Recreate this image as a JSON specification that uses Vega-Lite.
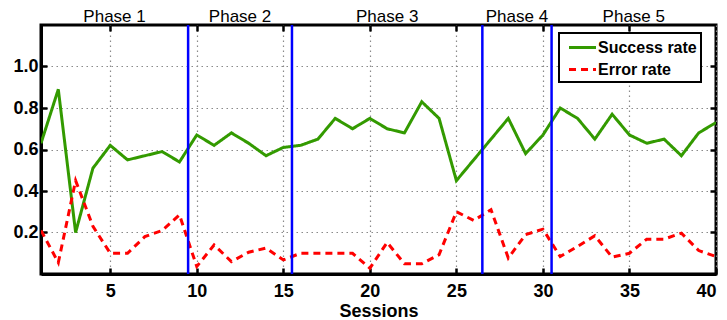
{
  "$schema": "https://vega.github.io/schema/vega-lite/v6.json",
  "width": 675,
  "height": 249,
  "autosize": {"type": "none"},
  "padding": {"left": 41, "top": 25, "right": 11, "bottom": 46},
  "background": "white",
  "config": {
    "font": "Liberation Sans",
    "view": {"stroke": "black", "strokeWidth": 3},
    "axis": {
      "domainColor": "black",
      "domainWidth": 3,
      "tickColor": "black",
      "tickWidth": 2.5,
      "tickSize": -6,
      "labelFont": "Liberation Sans",
      "labelFontSize": 18,
      "labelFontWeight": "bold",
      "labelColor": "black",
      "gridColor": "#8a8a8a",
      "gridDash": [1.5, 3.5],
      "gridWidth": 1.2,
      "gridOpacity": 1,
      "titleFont": "Liberation Sans",
      "titleFontSize": 18,
      "titleFontWeight": "bold",
      "titleColor": "black"
    },
    "legend": {
      "orient": "none",
      "legendX": 518,
      "legendY": 8,
      "fillColor": "white",
      "strokeColor": "black",
      "strokeWidth": 2,
      "padding": 4,
      "symbolType": "M-1.5,0H1.5",
      "symbolSize": 324,
      "symbolStrokeWidth": 3,
      "symbolOffset": 9,
      "labelFont": "Liberation Sans",
      "labelFontSize": 16,
      "labelFontWeight": "bold",
      "labelColor": "black",
      "labelOffset": 5,
      "rowPadding": 3,
      "title": null
    }
  },
  "datasets": {
    "rates": [
      {"session": 1, "series": "Success rate", "rate": 0.63},
      {"session": 2, "series": "Success rate", "rate": 0.89},
      {"session": 3, "series": "Success rate", "rate": 0.2},
      {"session": 4, "series": "Success rate", "rate": 0.51},
      {"session": 5, "series": "Success rate", "rate": 0.62},
      {"session": 6, "series": "Success rate", "rate": 0.55},
      {"session": 7, "series": "Success rate", "rate": 0.57},
      {"session": 8, "series": "Success rate", "rate": 0.59},
      {"session": 9, "series": "Success rate", "rate": 0.54},
      {"session": 10, "series": "Success rate", "rate": 0.67},
      {"session": 11, "series": "Success rate", "rate": 0.62},
      {"session": 12, "series": "Success rate", "rate": 0.68},
      {"session": 13, "series": "Success rate", "rate": 0.63},
      {"session": 14, "series": "Success rate", "rate": 0.57},
      {"session": 15, "series": "Success rate", "rate": 0.61},
      {"session": 16, "series": "Success rate", "rate": 0.62},
      {"session": 17, "series": "Success rate", "rate": 0.65},
      {"session": 18, "series": "Success rate", "rate": 0.75},
      {"session": 19, "series": "Success rate", "rate": 0.7},
      {"session": 20, "series": "Success rate", "rate": 0.75},
      {"session": 21, "series": "Success rate", "rate": 0.7},
      {"session": 22, "series": "Success rate", "rate": 0.68},
      {"session": 23, "series": "Success rate", "rate": 0.83},
      {"session": 24, "series": "Success rate", "rate": 0.75},
      {"session": 25, "series": "Success rate", "rate": 0.45},
      {"session": 26, "series": "Success rate", "rate": 0.55},
      {"session": 27, "series": "Success rate", "rate": 0.65},
      {"session": 28, "series": "Success rate", "rate": 0.75},
      {"session": 29, "series": "Success rate", "rate": 0.58},
      {"session": 30, "series": "Success rate", "rate": 0.67},
      {"session": 31, "series": "Success rate", "rate": 0.8},
      {"session": 32, "series": "Success rate", "rate": 0.75},
      {"session": 33, "series": "Success rate", "rate": 0.65},
      {"session": 34, "series": "Success rate", "rate": 0.77},
      {"session": 35, "series": "Success rate", "rate": 0.67},
      {"session": 36, "series": "Success rate", "rate": 0.63},
      {"session": 37, "series": "Success rate", "rate": 0.65},
      {"session": 38, "series": "Success rate", "rate": 0.57},
      {"session": 39, "series": "Success rate", "rate": 0.68},
      {"session": 40, "series": "Success rate", "rate": 0.73},
      {"session": 1, "series": "Error rate", "rate": 0.21},
      {"session": 2, "series": "Error rate", "rate": 0.055},
      {"session": 3, "series": "Error rate", "rate": 0.45},
      {"session": 4, "series": "Error rate", "rate": 0.23},
      {"session": 5, "series": "Error rate", "rate": 0.1},
      {"session": 6, "series": "Error rate", "rate": 0.1},
      {"session": 7, "series": "Error rate", "rate": 0.18},
      {"session": 8, "series": "Error rate", "rate": 0.21},
      {"session": 9, "series": "Error rate", "rate": 0.285},
      {"session": 10, "series": "Error rate", "rate": 0.036},
      {"session": 11, "series": "Error rate", "rate": 0.14},
      {"session": 12, "series": "Error rate", "rate": 0.06},
      {"session": 13, "series": "Error rate", "rate": 0.105},
      {"session": 14, "series": "Error rate", "rate": 0.125},
      {"session": 15, "series": "Error rate", "rate": 0.068},
      {"session": 16, "series": "Error rate", "rate": 0.1},
      {"session": 17, "series": "Error rate", "rate": 0.1},
      {"session": 18, "series": "Error rate", "rate": 0.1},
      {"session": 19, "series": "Error rate", "rate": 0.1},
      {"session": 20, "series": "Error rate", "rate": 0.028},
      {"session": 21, "series": "Error rate", "rate": 0.152},
      {"session": 22, "series": "Error rate", "rate": 0.049},
      {"session": 23, "series": "Error rate", "rate": 0.049},
      {"session": 24, "series": "Error rate", "rate": 0.093},
      {"session": 25, "series": "Error rate", "rate": 0.3},
      {"session": 26, "series": "Error rate", "rate": 0.258},
      {"session": 27, "series": "Error rate", "rate": 0.31},
      {"session": 28, "series": "Error rate", "rate": 0.077},
      {"session": 29, "series": "Error rate", "rate": 0.19},
      {"session": 30, "series": "Error rate", "rate": 0.216},
      {"session": 31, "series": "Error rate", "rate": 0.084},
      {"session": 32, "series": "Error rate", "rate": 0.133},
      {"session": 33, "series": "Error rate", "rate": 0.184},
      {"session": 34, "series": "Error rate", "rate": 0.081},
      {"session": 35, "series": "Error rate", "rate": 0.1},
      {"session": 36, "series": "Error rate", "rate": 0.168},
      {"session": 37, "series": "Error rate", "rate": 0.168},
      {"session": 38, "series": "Error rate", "rate": 0.197},
      {"session": 39, "series": "Error rate", "rate": 0.113},
      {"session": 40, "series": "Error rate", "rate": 0.084}
    ],
    "boundaries": [
      {"boundary": 9.5},
      {"boundary": 15.5},
      {"boundary": 26.5},
      {"boundary": 30.5}
    ],
    "phases": [
      {"phase": "Phase 1", "mid": 5.25},
      {"phase": "Phase 2", "mid": 12.5},
      {"phase": "Phase 3", "mid": 21},
      {"phase": "Phase 4", "mid": 28.5},
      {"phase": "Phase 5", "mid": 35.25}
    ]
  },
  "resolve": {"axis": {"x": "independent", "y": "independent"}},
  "layer": [
    {
      "data": {"name": "rates"},
      "mark": {"type": "line", "strokeWidth": 3, "clip": true},
      "encoding": {
        "x": {
          "field": "session",
          "type": "quantitative",
          "scale": {"domain": [1, 40], "nice": false, "zero": false},
          "axis": {
            "orient": "bottom",
            "values": [5, 10, 15, 20, 25, 30, 35, 40],
            "title": "Sessions",
            "labelPadding": 14,
            "titlePadding": 2,
            "grid": true
          }
        },
        "y": {
          "field": "rate",
          "type": "quantitative",
          "scale": {"domain": [0, 1.2], "nice": false},
          "axis": {
            "orient": "left",
            "values": [0.2, 0.4, 0.6, 0.8, 1.0],
            "format": ".1f",
            "title": null,
            "labelPadding": 9,
            "grid": true
          }
        },
        "color": {
          "field": "series",
          "type": "nominal",
          "scale": {"domain": ["Success rate", "Error rate"], "range": ["#339a00", "#ff0000"]}
        },
        "strokeDash": {
          "field": "series",
          "type": "nominal",
          "scale": {"domain": ["Success rate", "Error rate"], "range": [[1, 0], [7, 5]]}
        }
      }
    },
    {
      "data": {"name": "boundaries"},
      "mark": {"type": "rule", "color": "#0000ff", "strokeWidth": 2.5},
      "encoding": {
        "x": {
          "field": "boundary",
          "type": "quantitative",
          "axis": {
            "orient": "top",
            "values": [5, 10, 15, 20, 25, 30, 35],
            "labels": false,
            "grid": false,
            "domain": false,
            "title": null
          }
        }
      }
    },
    {
      "data": {"name": "phases"},
      "mark": {"type": "text", "fontSize": 17, "font": "Liberation Sans", "color": "black", "baseline": "alphabetic", "dy": -3},
      "encoding": {
        "x": {"field": "mid", "type": "quantitative", "axis": null},
        "y": {
          "datum": 1.2,
          "type": "quantitative",
          "axis": {
            "orient": "right",
            "values": [0.2, 0.4, 0.6, 0.8, 1.0],
            "labels": false,
            "grid": false,
            "domain": false,
            "title": null
          }
        },
        "text": {"field": "phase"}
      }
    }
  ]
}
